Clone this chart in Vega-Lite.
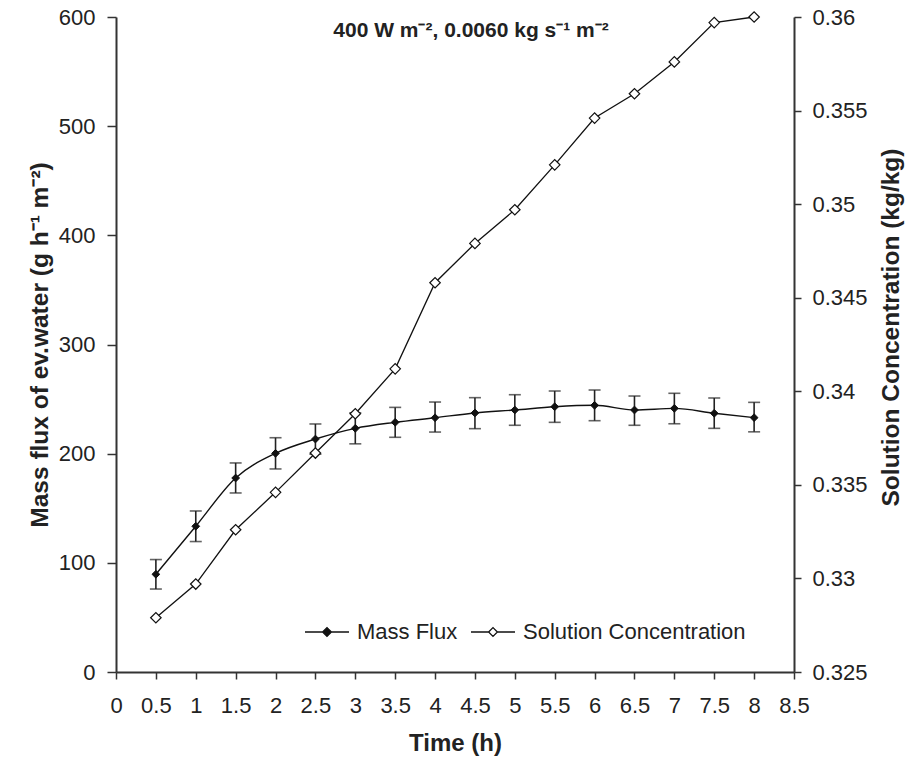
{
  "$schema": "https://vega.github.io/schema/vega-lite/v6.json",
  "width": 678,
  "height": 655,
  "autosize": {"type": "none"},
  "padding": {"left": 116, "top": 17, "right": 114, "bottom": 90},
  "background": "white",
  "config": {
    "font": "Liberation Sans",
    "view": {"stroke": null},
    "axis": {
      "grid": false,
      "domainColor": "#333333",
      "domainWidth": 2,
      "tickColor": "#333333",
      "tickWidth": 1.5,
      "labelFont": "Liberation Sans",
      "labelFontSize": 22,
      "labelColor": "#222222",
      "titleFont": "Liberation Sans",
      "titleFontSize": 24.5,
      "titleFontWeight": "bold",
      "titleColor": "#222222"
    }
  },
  "title": {
    "text": "400 W m⁻², 0.0060 kg s⁻¹ m⁻²",
    "font": "Liberation Sans",
    "fontSize": 21,
    "fontWeight": "bold",
    "color": "#222222",
    "anchor": "middle",
    "frame": "group",
    "baseline": "alphabetic",
    "offset": -46,
    "dx": 16,
    "dy": 6
  },
  "data": {
    "values": [
      {"t": 0.5, "mf": 89.5, "lo": 76, "hi": 103, "conc": 0.3279},
      {"t": 1.0, "mf": 133.5, "lo": 119.5, "hi": 147.5, "conc": 0.3297},
      {"t": 1.5, "mf": 177.7, "lo": 164, "hi": 191.5, "conc": 0.3326},
      {"t": 2.0, "mf": 200.3, "lo": 186, "hi": 214.6, "conc": 0.3346},
      {"t": 2.5, "mf": 213.4, "lo": 199.5, "hi": 227.2, "conc": 0.3367},
      {"t": 3.0, "mf": 223.2, "lo": 209, "hi": 237.4, "conc": 0.3388},
      {"t": 3.5, "mf": 228.7, "lo": 215, "hi": 242.4, "conc": 0.3412},
      {"t": 4.0, "mf": 232.9, "lo": 219.8, "hi": 247.3, "conc": 0.3458},
      {"t": 4.5, "mf": 237.3, "lo": 222.9, "hi": 251.3, "conc": 0.3479},
      {"t": 5.0, "mf": 240.0, "lo": 226, "hi": 254, "conc": 0.3497},
      {"t": 5.5, "mf": 243.0, "lo": 228.7, "hi": 257.4, "conc": 0.3521},
      {"t": 6.0, "mf": 244.3, "lo": 230.2, "hi": 258.3, "conc": 0.3546},
      {"t": 6.5, "mf": 240.0, "lo": 226, "hi": 252.8, "conc": 0.3559},
      {"t": 7.0, "mf": 241.5, "lo": 227.4, "hi": 255.3, "conc": 0.3576},
      {"t": 7.5, "mf": 237.0, "lo": 223.2, "hi": 251, "conc": 0.3597},
      {"t": 8.0, "mf": 233.0, "lo": 220, "hi": 247, "conc": 0.3600}
    ]
  },
  "layer": [
    {
      "encoding": {
        "x": {
          "field": "t",
          "type": "quantitative",
          "scale": {"domain": [0, 8.5], "nice": false, "zero": false},
          "axis": {
            "title": "Time (h)",
            "values": [0, 0.5, 1, 1.5, 2, 2.5, 3, 3.5, 4, 4.5, 5, 5.5, 6, 6.5, 7, 7.5, 8, 8.5],
            "format": "~g",
            "tickSize": 7,
            "labelPadding": 16,
            "titlePadding": 15,
            "titleFontSize": 24,
            "labelFlush": false,
            "labelOverlap": false
          }
        }
      },
      "layer": [
        {
          "mark": {"type": "line", "interpolate": "monotone", "color": "#111111", "strokeWidth": 1.4},
          "encoding": {
            "y": {
              "field": "mf",
              "type": "quantitative",
              "scale": {"domain": [0, 600], "nice": false, "zero": true},
              "axis": {
                "title": "Mass flux of ev.water (g h⁻¹ m⁻²)",
                "values": [0, 100, 200, 300, 400, 500, 600],
                "tickSize": 9,
                "labelPadding": 12,
                "titlePadding": 6,
                "labelFlush": false
              }
            }
          }
        },
        {
          "mark": {"type": "errorbar", "color": "#222222", "thickness": 1.6, "ticks": {"size": 12, "thickness": 1.6}},
          "encoding": {
            "y": {"field": "lo", "type": "quantitative", "title": "Mass flux of ev.water (g h⁻¹ m⁻²)"},
            "y2": {"field": "hi"}
          }
        },
        {
          "mark": {"type": "point", "shape": "diamond", "size": 60, "filled": true, "stroke": "#111111", "strokeWidth": 1, "opacity": 1},
          "encoding": {
            "y": {"field": "mf", "type": "quantitative", "title": "Mass flux of ev.water (g h⁻¹ m⁻²)"},
            "fill": {
              "datum": "Mass Flux",
              "type": "nominal",
              "scale": {"domain": ["Mass Flux", "Solution Concentration"], "range": ["#111111", "#ffffff"]},
              "legend": {
                "title": null,
                "orient": "none",
                "legendX": 188,
                "legendY": 592,
                "direction": "horizontal",
                "padding": 0,
                "offset": 0,
                "columnPadding": 10,
                "labelOffset": 7,
                "labelLimit": 400,
                "labelFont": "Liberation Sans",
                "labelFontSize": 22,
                "labelColor": "#222222",
                "symbolType": "M-1,0L-0.2,0M0.2,0L1,0M-0.2,0L0,-0.2L0.2,0L0,0.2Z",
                "symbolSize": 1936,
                "symbolStrokeColor": "#111111",
                "symbolStrokeWidth": 1.3,
                "encode": {
                  "symbols": {
                    "update": {
                      "shape": {"value": "M-1,0L-0.2,0M0.2,0L1,0M-0.2,0L0,-0.2L0.2,0L0,0.2Z"},
                      "size": {"value": 1936},
                      "stroke": {"value": "#111111"},
                      "strokeWidth": {"value": 1.3},
                      "opacity": {"value": 1}
                    }
                  }
                }
              }
            }
          }
        }
      ]
    },
    {
      "encoding": {
        "x": {
          "field": "t",
          "type": "quantitative",
          "scale": {"domain": [0, 8.5], "nice": false, "zero": false},
          "axis": {
            "title": "Time (h)",
            "values": [0, 0.5, 1, 1.5, 2, 2.5, 3, 3.5, 4, 4.5, 5, 5.5, 6, 6.5, 7, 7.5, 8, 8.5],
            "format": "~g",
            "tickSize": 7,
            "labelPadding": 16,
            "titlePadding": 15,
            "titleFontSize": 24,
            "labelFlush": false,
            "labelOverlap": false
          }
        }
      },
      "layer": [
        {
          "mark": {"type": "line", "color": "#111111", "strokeWidth": 1.3},
          "encoding": {
            "y": {
              "field": "conc",
              "type": "quantitative",
              "scale": {"domain": [0.325, 0.36], "nice": false, "zero": false},
              "axis": {
                "orient": "right",
                "title": "Solution Concentration (kg/kg)",
                "values": [0.325, 0.33, 0.335, 0.34, 0.345, 0.35, 0.355, 0.36],
                "format": "~g",
                "tickSize": 7,
                "labelPadding": 11,
                "titlePadding": 12,
                "titleAngle": 270,
                "titleBaseline": "top",
                "titleY": 310,
                "labelFlush": false
              }
            }
          }
        },
        {
          "mark": {"type": "point", "shape": "diamond", "size": 110, "filled": true, "stroke": "#111111", "strokeWidth": 1.2, "opacity": 1},
          "encoding": {
            "y": {"field": "conc", "type": "quantitative", "title": "Solution Concentration (kg/kg)"},
            "fill": {
              "datum": "Solution Concentration",
              "type": "nominal",
              "scale": {"domain": ["Mass Flux", "Solution Concentration"], "range": ["#111111", "#ffffff"]},
              "legend": {
                "title": null,
                "orient": "none",
                "legendX": 188,
                "legendY": 592,
                "direction": "horizontal",
                "padding": 0,
                "offset": 0,
                "columnPadding": 10,
                "labelOffset": 7,
                "labelLimit": 400,
                "labelFont": "Liberation Sans",
                "labelFontSize": 22,
                "labelColor": "#222222",
                "symbolType": "M-1,0L-0.2,0M0.2,0L1,0M-0.2,0L0,-0.2L0.2,0L0,0.2Z",
                "symbolSize": 1936,
                "symbolStrokeColor": "#111111",
                "symbolStrokeWidth": 1.3
              }
            }
          }
        }
      ]
    }
  ],
  "resolve": {"scale": {"y": "independent"}}
}
